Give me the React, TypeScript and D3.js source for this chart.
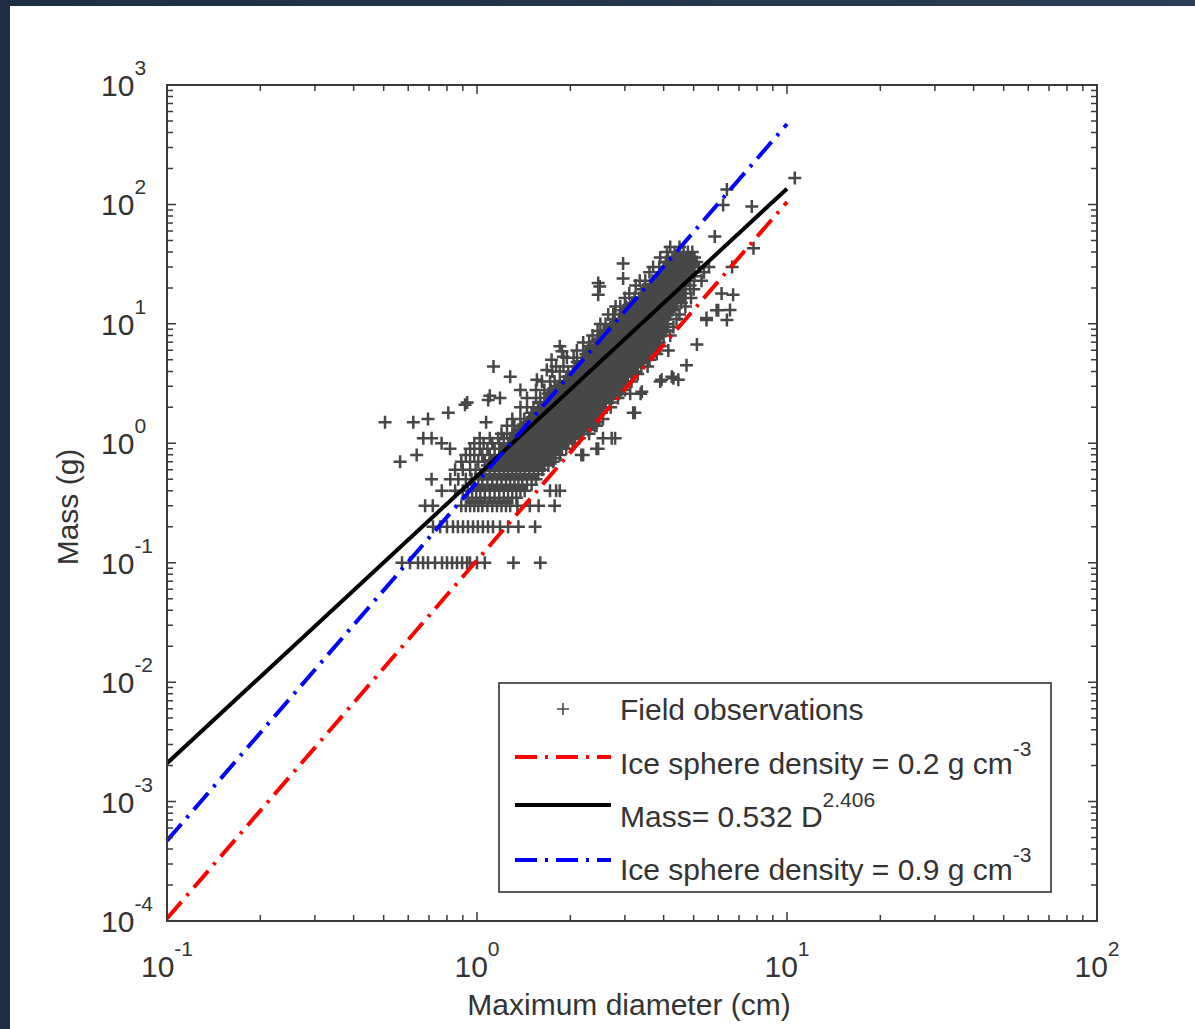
import React from 'react';
import * as d3 from 'd3';

const W = 1195;
const H = 1029;

// Field observations, dense part: [mass (g), diameters (cm) observed at that mass]
const obsRows: [number, number[]][] = [
  [0.1, [0.573, 0.608, 0.645, 0.67, 0.695, 0.732, 0.771, 0.8, 0.831, 0.862, 0.895, 0.929, 0.949, 1.0, 1.06, 1.31, 1.6]],
  [0.2, [0.721, 0.76, 0.8, 0.837, 0.868, 0.901, 0.935, 0.971, 1.007, 1.045, 1.085, 1.126, 1.186, 1.26, 1.36, 1.54]],
  [0.3, [0.89, 0.92, 0.95, 0.98, 1.01, 1.04, 1.08, 1.12, 1.16, 1.2, 1.24, 1.28]],
  [0.35, [0.935, 0.965, 0.995, 1.025, 1.06, 1.1, 1.14, 1.18, 1.22, 1.26, 1.3, 1.34]],
  [0.4, [0.935, 0.965, 0.995, 1.025, 1.06, 1.1, 1.14, 1.18, 1.22, 1.26, 1.3, 1.34, 1.38, 1.425]],
  [0.45, [0.98, 1.01, 1.04, 1.08, 1.12, 1.16, 1.2, 1.24, 1.28, 1.32, 1.36, 1.4, 1.45, 1.5]],
  [0.5, [1.01, 1.04, 1.08, 1.12, 1.16, 1.2, 1.24, 1.28, 1.32, 1.36, 1.4, 1.45, 1.5, 1.55]],
  [0.55, [1.025, 1.06, 1.1, 1.14, 1.18, 1.22, 1.26, 1.3, 1.34, 1.38, 1.425, 1.475, 1.525, 1.575]],
  [0.6, [1.06, 1.1, 1.14, 1.18, 1.22, 1.26, 1.3, 1.34, 1.38, 1.425, 1.475, 1.525, 1.575, 1.625]],
  [0.65, [1.08, 1.12, 1.16, 1.2, 1.24, 1.28, 1.32, 1.36, 1.4, 1.45, 1.5, 1.55, 1.6, 1.65, 1.7]],
  [0.7, [1.12, 1.16, 1.2, 1.24, 1.28, 1.32, 1.36, 1.4, 1.45, 1.5, 1.55, 1.6, 1.65, 1.7, 1.76]],
  [0.75, [1.14, 1.18, 1.22, 1.26, 1.3, 1.34, 1.38, 1.425, 1.475, 1.525, 1.575, 1.625, 1.675, 1.73, 1.79]],
  [0.8, [1.14, 1.18, 1.22, 1.26, 1.3, 1.34, 1.38, 1.425, 1.475, 1.525, 1.575, 1.625, 1.675, 1.73, 1.79, 1.85]],
  [0.9, [1.2, 1.24, 1.28, 1.32, 1.36, 1.4, 1.45, 1.5, 1.55, 1.6, 1.65, 1.7, 1.76, 1.82, 1.88, 1.94]],
  [1.0, [1.22, 1.26, 1.3, 1.34, 1.38, 1.425, 1.475, 1.525, 1.575, 1.625, 1.675, 1.73, 1.79, 1.85, 1.91, 1.97, 2.035]],
  [1.1, [1.28, 1.32, 1.36, 1.4, 1.45, 1.5, 1.55, 1.6, 1.65, 1.7, 1.76, 1.82, 1.88, 1.94, 2.0, 2.07, 2.14]],
  [1.2, [1.3, 1.34, 1.38, 1.425, 1.475, 1.525, 1.575, 1.625, 1.675, 1.73, 1.79, 1.85, 1.91, 1.97, 2.035, 2.105, 2.175]],
  [1.3, [1.36, 1.4, 1.45, 1.5, 1.55, 1.6, 1.65, 1.7, 1.76, 1.82, 1.88, 1.94, 2.0, 2.07, 2.14, 2.21, 2.28]],
  [1.4, [1.38, 1.425, 1.475, 1.525, 1.575, 1.625, 1.675, 1.73, 1.79, 1.85, 1.91, 1.97, 2.035, 2.105, 2.175, 2.245, 2.32]],
  [1.5, [1.45, 1.5, 1.55, 1.6, 1.65, 1.7, 1.76, 1.82, 1.88, 1.94, 2.0, 2.07, 2.14, 2.21, 2.28, 2.36, 2.44]],
  [1.6, [1.475, 1.525, 1.575, 1.625, 1.675, 1.73, 1.79, 1.85, 1.91, 1.97, 2.035, 2.105, 2.175, 2.245, 2.32, 2.4, 2.48]],
  [1.8, [1.5, 1.55, 1.6, 1.65, 1.7, 1.76, 1.82, 1.88, 1.94, 2.0, 2.07, 2.14, 2.21, 2.28, 2.36, 2.44, 2.52]],
  [2.0, [1.575, 1.625, 1.675, 1.73, 1.79, 1.85, 1.91, 1.97, 2.035, 2.105, 2.175, 2.245, 2.32, 2.4, 2.48, 2.56]],
  [2.2, [1.6, 1.65, 1.7, 1.76, 1.82, 1.88, 1.94, 2.0, 2.07, 2.14, 2.21, 2.28, 2.36, 2.44, 2.52, 2.6, 2.69]],
  [2.4, [1.675, 1.73, 1.79, 1.85, 1.91, 1.97, 2.035, 2.105, 2.175, 2.245, 2.32, 2.4, 2.48, 2.56, 2.645, 2.735]],
  [2.6, [1.7, 1.76, 1.82, 1.88, 1.94, 2.0, 2.07, 2.14, 2.21, 2.28, 2.36, 2.44, 2.52, 2.6, 2.69, 2.78, 2.87]],
  [2.8, [1.73, 1.79, 1.85, 1.91, 1.97, 2.035, 2.105, 2.175, 2.245, 2.32, 2.4, 2.48, 2.56, 2.645, 2.735, 2.825, 2.92]],
  [3.0, [1.82, 1.88, 1.94, 2.0, 2.07, 2.14, 2.21, 2.28, 2.36, 2.44, 2.52, 2.6, 2.69, 2.78, 2.87, 2.97]],
  [3.3, [1.85, 1.91, 1.97, 2.035, 2.105, 2.175, 2.245, 2.32, 2.4, 2.48, 2.56, 2.645, 2.735, 2.825, 2.92, 3.02]],
  [3.6, [1.94, 2.0, 2.07, 2.14, 2.21, 2.28, 2.36, 2.44, 2.52, 2.6, 2.69, 2.78, 2.87, 2.97, 3.07, 3.17]],
  [4.0, [1.97, 2.035, 2.105, 2.175, 2.245, 2.32, 2.4, 2.48, 2.56, 2.645, 2.735, 2.825, 2.92, 3.02, 3.12, 3.225]],
  [4.4, [2.07, 2.14, 2.21, 2.28, 2.36, 2.44, 2.52, 2.6, 2.69, 2.78, 2.87, 2.97, 3.07, 3.17, 3.28, 3.39]],
  [4.8, [2.105, 2.175, 2.245, 2.32, 2.4, 2.48, 2.56, 2.645, 2.735, 2.825, 2.92, 3.02, 3.12, 3.225, 3.335, 3.445]],
  [5.2, [2.21, 2.28, 2.36, 2.44, 2.52, 2.6, 2.69, 2.78, 2.87, 2.97, 3.07, 3.17, 3.28, 3.39, 3.5]],
  [5.6, [2.245, 2.32, 2.4, 2.48, 2.56, 2.645, 2.735, 2.825, 2.92, 3.02, 3.12, 3.225, 3.335, 3.445, 3.56]],
  [6.0, [2.28, 2.36, 2.44, 2.52, 2.6, 2.69, 2.78, 2.87, 2.97, 3.07, 3.17, 3.28, 3.39, 3.5, 3.62, 3.74]],
  [6.5, [2.32, 2.4, 2.48, 2.56, 2.645, 2.735, 2.825, 2.92, 3.02, 3.12, 3.225, 3.335, 3.445, 3.56, 3.68]],
  [7.0, [2.44, 2.52, 2.6, 2.69, 2.78, 2.87, 2.97, 3.07, 3.17, 3.28, 3.39, 3.5, 3.62, 3.74, 3.87]],
  [7.5, [2.48, 2.56, 2.645, 2.735, 2.825, 2.92, 3.02, 3.12, 3.225, 3.335, 3.445, 3.56, 3.68, 3.805]],
  [8.0, [2.52, 2.6, 2.69, 2.78, 2.87, 2.97, 3.07, 3.17, 3.28, 3.39, 3.5, 3.62, 3.74, 3.87, 4.0]],
  [8.7, [2.56, 2.645, 2.735, 2.825, 2.92, 3.02, 3.12, 3.225, 3.335, 3.445, 3.56, 3.68, 3.805, 3.935, 4.065]],
  [9.4, [2.69, 2.78, 2.87, 2.97, 3.07, 3.17, 3.28, 3.39, 3.5, 3.62, 3.74, 3.87, 4.0, 4.13]],
  [10, [2.735, 2.825, 2.92, 3.02, 3.12, 3.225, 3.335, 3.445, 3.56, 3.68, 3.805, 3.935, 4.065]],
  [11, [2.78, 2.87, 2.97, 3.07, 3.17, 3.28, 3.39, 3.5, 3.62, 3.74, 3.87, 4.0, 4.13]],
  [12, [2.92, 3.02, 3.12, 3.225, 3.335, 3.445, 3.56, 3.68, 3.805, 3.935, 4.065, 4.2]],
  [13, [2.97, 3.07, 3.17, 3.28, 3.39, 3.5, 3.62, 3.74, 3.87, 4.0, 4.13, 4.27]],
  [14, [3.02, 3.12, 3.225, 3.335, 3.445, 3.56, 3.68, 3.805, 3.935, 4.065, 4.2, 4.34]],
  [15, [3.17, 3.28, 3.39, 3.5, 3.62, 3.74, 3.87, 4.0, 4.13, 4.27, 4.41, 4.56]],
  [16.5, [3.225, 3.335, 3.445, 3.56, 3.68, 3.805, 3.935, 4.065, 4.2, 4.34, 4.485, 4.635]],
  [18, [3.39, 3.5, 3.62, 3.74, 3.87, 4.0, 4.13, 4.27, 4.41, 4.56, 4.71]],
  [19.5, [3.445, 3.56, 3.68, 3.805, 3.935, 4.065, 4.2, 4.34, 4.485, 4.635]],
  [21, [3.62, 3.74, 3.87, 4.0, 4.13, 4.27, 4.41, 4.56, 4.71, 4.87]],
  [23, [3.68, 3.805, 3.935, 4.065, 4.2, 4.34, 4.485, 4.635, 4.79]],
  [25, [3.87, 4.0, 4.13, 4.27, 4.41, 4.56, 4.71, 4.87, 5.03]],
  [27, [3.935, 4.065, 4.2, 4.34, 4.485, 4.635, 4.79, 4.95]],
  [30, [3.87, 4.0, 4.13, 4.27, 4.41, 4.56, 4.71, 4.87, 5.03, 5.2]],
  [33, [4.065, 4.2, 4.34, 4.485, 4.635, 4.79, 4.95, 5.115]],
  [36, [4.13, 4.27, 4.41, 4.56, 4.71, 4.87, 5.03]],
  [40, [4.34, 4.485, 4.635, 4.79, 4.95]],
];

// Field observations, scattered part: [diameter (cm), mass (g)]
const obsScattered: [number, number][] = [
  [0.68, 0.3], [0.72, 0.3], [0.77, 0.4], [0.85, 0.4], [0.9, 0.4], [0.714, 0.5], [0.82, 0.5], [0.87, 0.5],
  [0.92, 0.5], [0.96, 0.5], [0.85, 0.6], [0.9, 0.6], [0.95, 0.6], [0.99, 0.6], [0.565, 0.7], [0.89, 0.7],
  [0.95, 0.7], [1.01, 0.7], [1.06, 0.7], [0.639, 0.8], [0.92, 0.8], [0.98, 0.8], [1.04, 0.8], [1.1, 0.8],
  [0.818, 0.9], [0.95, 0.9], [1.02, 0.9], [1.08, 0.9], [1.14, 0.9], [0.769, 1.0], [0.98, 1.0], [1.05, 1.0],
  [1.12, 1.0], [1.18, 1.0], [0.671, 1.1], [0.714, 1.1], [1.02, 1.1], [1.1, 1.1], [1.17, 1.1], [1.22, 1.1],
  [0.505, 1.5], [0.623, 1.5], [0.695, 1.6], [0.808, 1.8], [0.915, 2.1], [1.087, 2.3], [1.186, 2.4], [0.93, 2.2],
  [1.07, 1.5], [1.1, 2.5], [1.13, 4.4], [1.28, 3.6], [1.38, 2.8], [1.56, 3.4], [1.68, 4.1], [1.74, 5.0],
  [1.85, 6.5], [1.9, 5.3], [1.88, 5.9], [2.46, 22], [2.46, 17.5], [2.49, 20.5], [2.96, 32], [2.96, 24], [3.49, 23],
  [1.2, 1.2], [1.25, 1.2], [1.25, 1.4], [1.32, 1.4], [1.3, 1.6], [1.38, 1.6], [1.42, 1.6], [1.38, 2.0],
  [1.45, 2.0], [1.52, 2.0], [1.45, 2.4], [1.55, 2.4], [1.6, 2.4], [1.55, 2.8], [1.65, 2.8], [1.62, 3.3],
  [1.72, 3.3], [1.78, 3.3], [1.75, 4.0], [1.85, 4.0], [1.8, 4.4], [1.9, 4.4], [1.95, 5.2], [2.05, 5.2],
  [2.1, 6.0], [2.2, 6.0], [2.2, 7.0], [2.3, 7.0], [2.36, 8.0], [2.45, 8.7], [2.5, 10], [2.6, 10],
  [2.65, 12], [2.75, 12], [2.8, 14], [2.9, 14], [3.0, 16.5], [3.1, 18], [3.25, 21], [3.35, 23],
  [3.6, 27], [3.7, 30], [3.9, 36], [4.1, 40], [4.2, 44], [4.5, 44],
  [1.35, 0.3], [1.48, 0.3], [1.58, 0.3], [1.78, 0.3], [1.72, 0.4], [1.8, 0.4], [1.85, 0.4], [2.17, 0.8],
  [2.2, 0.8], [2.43, 0.9], [2.46, 0.9], [2.55, 1.1], [2.72, 1.1], [2.79, 1.1], [2.43, 1.4], [3.19, 1.8],
  [3.23, 1.8], [3.12, 2.6], [3.37, 2.6], [3.4, 2.7], [3.9, 3.3], [3.94, 3.4], [4.3, 3.5], [4.46, 3.4],
  [4.25, 3.6], [4.74, 4.5], [4.14, 6.0], [5.12, 6.7], [5.5, 10.8], [5.5, 11.2], [5.93, 13], [6.0, 13],
  [6.4, 10.8], [6.55, 13.1], [6.15, 18], [6.7, 17.5], [6.65, 30], [7.8, 43], [5.85, 54], [7.7, 96],
  [6.22, 99], [6.4, 133], [10.6, 166],
  [2.3, 1.2], [2.4, 1.4], [2.55, 1.6], [2.7, 2.0], [2.85, 2.4], [3.0, 2.8], [3.15, 3.3], [3.3, 3.8],
  [3.55, 4.4], [3.6, 5.0], [3.8, 5.6], [3.9, 6.5], [4.2, 8.0], [4.3, 9.4], [4.4, 11], [4.5, 12],
  [4.7, 14], [4.9, 16.5], [5.0, 19.5], [5.3, 23], [5.4, 27], [5.6, 30],
];

// Reference lines (end points): diameter (cm) and mass (g)
const lineDiam = [0.1, 10];
const ice02Mass = [1.05e-4, 104.7];
const fitMass = [2.09e-3, 135.5];
const ice09Mass = [4.71e-4, 471];

const xTickExps = [-1, 0, 1, 2];
const yTickExps = [-4, -3, -2, -1, 0, 1, 2, 3];

const FONT = "'Liberation Sans', Arial, Helvetica, sans-serif";
const GRAY = '#474747';
const TXT = '#333';

export default function App() {
  const left = 167, right = 1097, top = 85, bottom = 921;
  const x = d3.scaleLog().domain([0.1, 100]).range([left, right]);
  const y = d3.scaleLog().domain([1e-4, 1e3]).range([bottom, top]);

  const pts: [number, number][] = [];
  obsRows.forEach(([m, ds]) => ds.forEach((d) => pts.push([d, m])));
  obsScattered.forEach((p) => pts.push(p));
  const arm = 6.5;
  const plusPath = pts
    .map(([d, m]) => {
      const px = x(d), py = y(m);
      return `M${(px - arm).toFixed(1)},${py.toFixed(1)}h${2 * arm}M${px.toFixed(1)},${(py - arm).toFixed(1)}v${2 * arm}`;
    })
    .join('');

  const line = d3
    .line<[number, number]>()
    .x((p) => x(p[0]))
    .y((p) => y(p[1]));
  const mk = (ms: number[]) => line(lineDiam.map((d, i) => [d, ms[i]] as [number, number])) || '';

  // ticks
  const majorLen = 9, minorLen = 6;
  const tickPaths: string[] = [];
  const xMinor: number[] = [];
  for (let e = -1; e < 2; e++) for (let k = 2; k <= 9; k++) xMinor.push(k * Math.pow(10, e));
  const yMinor: number[] = [];
  for (let e = -4; e < 3; e++) for (let k = 2; k <= 9; k++) yMinor.push(k * Math.pow(10, e));
  xTickExps.forEach((e) => {
    const px = x(Math.pow(10, e));
    tickPaths.push(`M${px},${bottom}v${-majorLen}M${px},${top}v${majorLen}`);
  });
  xMinor.forEach((v) => {
    const px = x(v);
    tickPaths.push(`M${px},${bottom}v${-minorLen}M${px},${top}v${minorLen}`);
  });
  yTickExps.forEach((e) => {
    const py = y(Math.pow(10, e));
    tickPaths.push(`M${left},${py}h${majorLen}M${right},${py}h${-majorLen}`);
  });
  yMinor.forEach((v) => {
    const py = y(v);
    tickPaths.push(`M${left},${py}h${minorLen}M${right},${py}h${-minorLen}`);
  });

  const dash = '22,8,3,8';
  const legX0 = 515, legX1 = 611, legTextX = 620;

  return (
    <svg
      width={W}
      height={H}
      style={{ position: 'absolute', left: 0, top: 0, display: 'block' }}
      fontFamily={FONT}
    >
      <defs>
        <linearGradient id="frame" x1="0" y1="0" x2="1" y2="0">
          <stop offset="0" stopColor="#1d2d45" />
          <stop offset="1" stopColor="#2b3d56" />
        </linearGradient>
      </defs>
      <rect x={0} y={0} width={W} height={H} fill="url(#frame)" />
      <rect x={10} y={6} width={W - 10} height={H - 6} fill="#fff" />

      {/* observations */}
      <path d={plusPath} stroke={GRAY} strokeWidth={2.5} fill="none" />

      {/* lines */}
      <path d={mk(ice02Mass)} stroke="#ff0000" strokeWidth={4} strokeDasharray={dash} fill="none" />
      <path d={mk(fitMass)} stroke="#000" strokeWidth={4} fill="none" />
      <path d={mk(ice09Mass)} stroke="#0000ff" strokeWidth={4} strokeDasharray={dash} fill="none" />

      {/* axes box and ticks */}
      <path d={tickPaths.join('')} stroke="#3a3a3a" strokeWidth={1.5} fill="none" />
      <rect x={left} y={top} width={right - left} height={bottom - top} fill="none" stroke="#3a3a3a" strokeWidth={2} />

      {/* tick labels */}
      {yTickExps.map((e) => (
        <text key={'y' + e} x={101} y={y(Math.pow(10, e)) + 11} fontSize={30} fill={TXT}>
          <tspan>10</tspan>
          <tspan dy={-21} fontSize={21}>{String(e)}</tspan>
        </text>
      ))}
      {xTickExps.map((e) => (
        <text key={'x' + e} x={x(Math.pow(10, e))} y={977} fontSize={30} fill={TXT} textAnchor="middle">
          <tspan>10</tspan>
          <tspan dy={-21} fontSize={21}>{String(e)}</tspan>
        </text>
      ))}

      {/* axis titles */}
      <text x={(left + right) / 2 - 3} y={1015} fontSize={30} fill={TXT} textAnchor="middle">
        Maximum diameter (cm)
      </text>
      <text
        transform={`translate(78,${(top + bottom) / 2 + 4}) rotate(-90)`}
        fontSize={30}
        fill={TXT}
        textAnchor="middle"
      >
        Mass (g)
      </text>

      {/* legend */}
      <rect x={499} y={683} width={552} height={209} fill="#fff" stroke="#333" strokeWidth={1.6} />
      <path d={`M${563 - 6},709h12M563,703v12`} stroke={GRAY} strokeWidth={1.6} />
      <text x={legTextX} y={720} fontSize={30} fill={TXT}>Field observations</text>

      <line x1={legX0} x2={legX1} y1={757} y2={757} stroke="#ff0000" strokeWidth={4} strokeDasharray={dash} />
      <text x={legTextX} y={774} fontSize={30} fill={TXT}>
        <tspan>Ice sphere density = 0.2 g cm</tspan>
        <tspan dy={-18} fontSize={21}>-3</tspan>
      </text>

      <line x1={legX0} x2={legX1} y1={805} y2={805} stroke="#000" strokeWidth={4} />
      <text x={legTextX} y={827} fontSize={30} fill={TXT}>
        <tspan>Mass= 0.532 D</tspan>
        <tspan dy={-20} fontSize={21}>2.406</tspan>
      </text>

      <line x1={legX0} x2={legX1} y1={860} y2={860} stroke="#0000ff" strokeWidth={4} strokeDasharray={dash} />
      <text x={legTextX} y={880} fontSize={30} fill={TXT}>
        <tspan>Ice sphere density = 0.9 g cm</tspan>
        <tspan dy={-18} fontSize={21}>-3</tspan>
      </text>
    </svg>
  );
}
